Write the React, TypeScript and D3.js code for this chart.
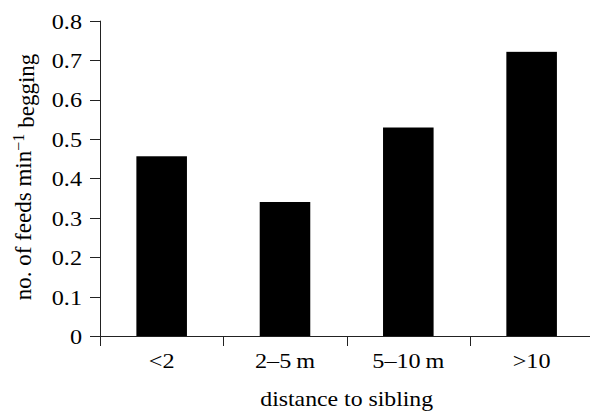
import React from "react";
import * as d3 from "d3";

const categories = ["<2", "2\u20135\u2009m", "5\u201310\u2009m", ">10"];
const feeds = [0.456, 0.34, 0.529, 0.721];
const yTicks = [0, 0.1, 0.2, 0.3, 0.4, 0.5, 0.6, 0.7, 0.8];

const width = 590,
  height = 412;
const left = 100,
  right = 593.3,
  top = 20.7,
  bottom = 336;
const font = "Liberation Serif";
const axisColor = "#222";

const x = d3
  .scaleBand<string>()
  .domain(categories)
  .range([left, right])
  .paddingInner(0.59)
  .paddingOuter(0.295);

const y = d3.scaleLinear().domain([0, 0.8]).range([bottom, top]);

const fmt = (d: number) => (d === 0 ? "0" : d3.format(".1f")(d));

// the reference type is a bit wider than Liberation Serif
const wide = (tx: number, ty: number, s: number) =>
  "translate(" + tx + "," + ty + ") scale(" + s + ",1)";

function App() {
  const gap = (x.step() - x.bandwidth()) / 2;
  const crisp = (v: number) => Math.round(v) + 0.5;

  return (
    <div style={{ position: "absolute", left: 0, top: 0, background: "#fff" }}>
      <svg width={width} height={height} style={{ fontFamily: font }}>
        {/* bars */}
        {feeds.map((d, i) => (
          <rect
            key={categories[i]}
            x={x(categories[i])}
            y={y(d)}
            width={x.bandwidth()}
            height={bottom - y(d)}
            fill="#000"
          />
        ))}

        {/* y axis */}
        <line x1={crisp(left)} x2={crisp(left)} y1={y(0.8)} y2={bottom + 10} stroke={axisColor} />
        {yTicks.map((t) => (
          <g key={t}>
            <line x1={left - 10} x2={left} y1={crisp(y(t))} y2={crisp(y(t))} stroke={axisColor} />
            <text
              transform={wide(left - 18, y(t), 1.1)}
              dy="0.36em"
              textAnchor="end"
              fontSize={22}
              style={{ fontFamily: font }}
            >
              {fmt(t)}
            </text>
          </g>
        ))}

        {/* x axis */}
        <line x1={left} x2={width} y1={crisp(bottom)} y2={crisp(bottom)} stroke={axisColor} />
        {categories.map((c) => (
          <g key={c}>
            <line
              x1={crisp((x(c) as number) - gap)}
              x2={crisp((x(c) as number) - gap)}
              y1={bottom}
              y2={bottom + 10}
              stroke={axisColor}
            />
            <text
              transform={wide((x(c) as number) + x.bandwidth() / 2, bottom + 32, 1.1)}
              textAnchor="middle"
              fontSize={22}
              style={{ fontFamily: font }}
            >
              {c}
            </text>
          </g>
        ))}

        {/* axis titles */}
        <text
          transform={wide(346.7, 406, 1.08)}
          textAnchor="middle"
          fontSize={22}
          style={{ fontFamily: font }}
        >
          distance to sibling
        </text>
        <text
          transform={"translate(31,177) rotate(-90)"}
          textAnchor="middle"
          fontSize={23}
          style={{ fontFamily: font }}
        >
          <tspan>no. of feeds min</tspan>
          <tspan dy="-0.45em" fontSize={16}>
            {"\u22121"}
          </tspan>
          <tspan dy="0.45em" dx={6}>
            begging
          </tspan>
        </text>
      </svg>
    </div>
  );
}

export default App;
